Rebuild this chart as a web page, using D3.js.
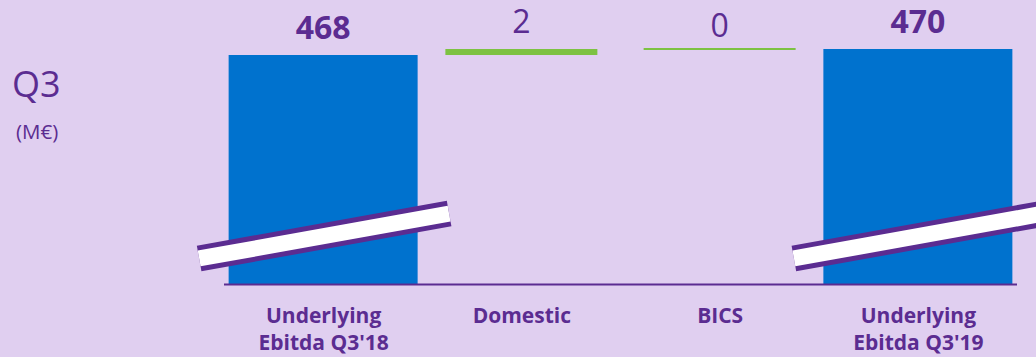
<!DOCTYPE html>
<html>
<head>
<meta charset="utf-8">
<script src="https://cdn.jsdelivr.net/npm/d3@7"></script>
<style>
  html, body { margin: 0; padding: 0; background: #E0CFF0; }
  svg { display: block; }
  text { font-family: "Open Sans", sans-serif; }
</style>
</head>
<body>
<svg id="chart" width="1036" height="357"></svg>
<script>
// ---- data ----
const categories = ["Underlying\nEbitda Q3'18", "Domestic", "BICS", "Underlying\nEbitda Q3'19"];
const values = [468, 2, 0, 470];
const kinds = ["total", "delta", "delta", "total"];
const valueLabels = ["468", "2", "0", "470"];
const title = "Q3";
const unit = "(M€)";
const axisMin = 391.7;   // visible scale starts here (axis is broken)
const axisMax = 470;

// ---- style ----
const W = 1036, H = 357;
const purple = "#5B2C91", blue = "#0072CE", green = "#7DC242";

const svg = d3.select("#chart");

const x = d3.scalePoint().domain(categories).range([224, 1017]).padding(0.5);
const y = d3.scaleLinear().domain([axisMin, axisMax]).range([284, 49]);

// waterfall geometry
let run = 0;
const rows = categories.map((c, i) => {
  let lo, hi;
  if (kinds[i] === "total") { lo = axisMin; hi = values[i]; run = values[i]; }
  else { lo = run; hi = run + values[i]; run = hi; }
  return { c, v: values[i], kind: kinds[i], lo, hi, label: valueLabels[i] };
});

const totalW = 189, deltaW = 152;

svg.append("g").selectAll("rect").data(rows).join("rect")
  .attr("x", d => x(d.c) - (d.kind === "total" ? totalW : deltaW) / 2)
  .attr("width", d => d.kind === "total" ? totalW : deltaW)
  .attr("y", d => d.hi === d.lo ? y(d.hi) - 1 : y(Math.max(d.hi, d.lo)))
  .attr("height", d => d.hi === d.lo ? 2 : Math.abs(y(d.lo) - y(d.hi)))
  .attr("fill", d => d.kind === "total" ? blue : green);

// value labels
svg.append("g").selectAll("text").data(rows).join("text")
  .attr("x", d => x(d.c))
  .attr("y", d => y(Math.max(d.hi, d.lo)) - (d.hi === d.lo ? 12 : 16))
  .attr("text-anchor", "middle")
  .attr("font-size", 32)
  .attr("font-weight", d => d.kind === "total" ? 700 : 400)
  .attr("fill", purple)
  .text(d => d.label);

// axis break marks on total bars
const brk = svg.append("g").selectAll("g").data(rows.filter(d => d.kind === "total")).join("g")
  .attr("transform", d => `translate(${x(d.c) + 1},${y(axisMin) - 48}) rotate(-10.2)`);
brk.append("rect").attr("x", -127).attr("y", -13).attr("width", 254).attr("height", 26).attr("fill", purple);
brk.append("rect").attr("x", -127).attr("y", -8).attr("width", 254).attr("height", 16).attr("fill", "#fff");

// baseline
svg.append("line")
  .attr("x1", 224).attr("x2", 1017)
  .attr("y1", y(axisMin) + 0.5).attr("y2", y(axisMin) + 0.5)
  .attr("stroke", purple).attr("stroke-width", 2.2);

// category labels
const xAxis = d3.axisBottom(x).tickSize(0).tickFormat(() => "");
const ax = svg.append("g").attr("transform", `translate(0,${y(axisMin)})`).call(xAxis);
ax.select(".domain").remove();
ax.selectAll(".tick").each(function(d) {
  const t = d3.select(this).append("text")
    .attr("text-anchor", "middle")
    .attr("font-size", 21)
    .attr("font-weight", 700)
    .attr("fill", purple);
  d.split("\n").forEach((line, i) => {
    t.append("tspan").attr("x", 0).attr("y", 39 + i * 27).text(line);
  });
});

// title
svg.append("text").attr("x", 12).attr("y", 97).attr("font-size", 36).attr("fill", purple).text(title);
svg.append("text").attr("x", 16).attr("y", 139).attr("font-size", 20.5).attr("fill", purple).text(unit);
</script>
</body>
</html>
